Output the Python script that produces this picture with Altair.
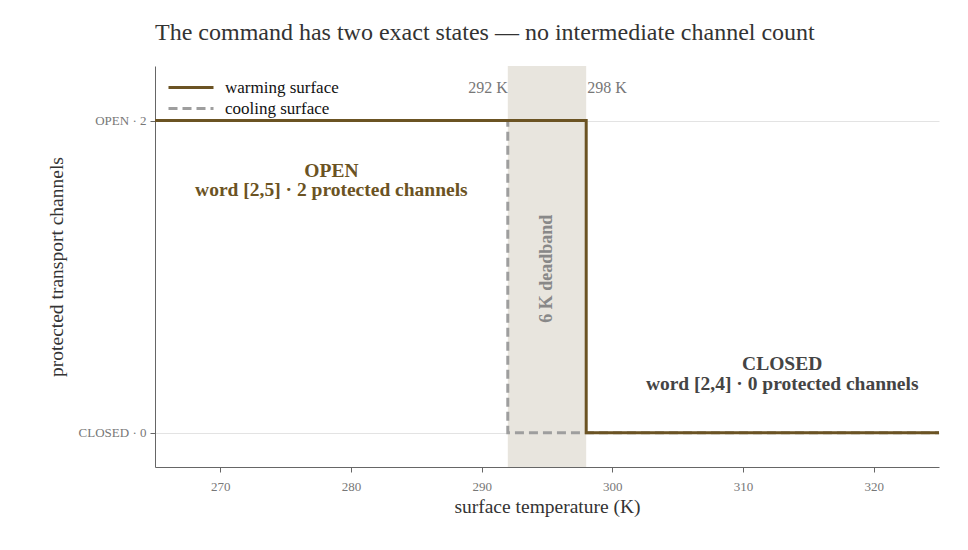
import altair as alt
import pandas as pd

# ---- data ----
warm_temp = [265, 298, 298, 325]
warm_chan = [2, 2, 0, 0]
cool_temp = [265, 292, 292, 325]
cool_chan = [2, 2, 0, 0]
band_lo, band_hi = 292, 298
x_domain = [265, 325]
y_domain = [-0.22, 2.35]
x_ticks = [270, 280, 290, 300, 310, 320]
y_ticks = [0, 2]

FONT = "Liberation Serif"
BROWN = "#6b5323"
GRAY = "#9e9e9e"

rows = []
for i, (t, c) in enumerate(zip(cool_temp, cool_chan)):
    rows.append({"temp": t, "chan": c, "series": "cooling surface", "ord": i})
for i, (t, c) in enumerate(zip(warm_temp, warm_chan)):
    rows.append({"temp": t, "chan": c, "series": "warming surface", "ord": i})
lines_df = pd.DataFrame(rows)

band_df = pd.DataFrame({"lo": [band_lo], "hi": [band_hi]})
edge_df = pd.DataFrame({
    "temp": [band_lo, band_hi],
    "chan": [2.21, 2.21],
    "label": [f"{band_lo} K", f"{band_hi} K"],
})
open_df = pd.DataFrame({"temp": [278.5], "chan": [1.68],
                        "label": [["OPEN", "word [2,5] · 2 protected channels"]]})
closed_df = pd.DataFrame({"temp": [313], "chan": [0.44],
                          "label": [["CLOSED", "word [2,4] · 0 protected channels"]]})
dead_df = pd.DataFrame({"temp": [(band_lo + band_hi) / 2], "chan": [1.05],
                        "label": [f"{band_hi - band_lo} K deadband"]})

xs = alt.Scale(domain=x_domain, nice=False, zero=False)
ys = alt.Scale(domain=y_domain, nice=False, zero=False)

band = alt.Chart(band_df).mark_rect(color="#e8e5de").encode(
    x=alt.X("lo:Q", scale=xs), x2="hi:Q"
)

lines = alt.Chart(lines_df).mark_line(strokeWidth=3).encode(
    x=alt.X("temp:Q", scale=xs,
            axis=alt.Axis(values=x_ticks, title="surface temperature (K)", grid=False)),
    y=alt.Y("chan:Q", scale=ys,
            axis=alt.Axis(values=y_ticks, title="protected transport channels",
                          labelExpr="datum.value == 2 ? 'OPEN · 2' : 'CLOSED · 0'")),
    color=alt.Color("series:N",
                    scale=alt.Scale(domain=["warming surface", "cooling surface"],
                                    range=[BROWN, GRAY]),
                    legend=alt.Legend(title=None, orient="none", legendX=25.5, legendY=11,
                                      symbolType="M-2.5,0H2.5", symbolSize=324,
                                      symbolStrokeWidth=3, labelFontSize=17,
                                      labelFont=FONT, labelColor="#111",
                                      rowPadding=2, symbolOffset=0, labelOffset=23.5)),
    strokeDash=alt.StrokeDash("series:N",
                              scale=alt.Scale(domain=["warming surface", "cooling surface"],
                                              range=[[1, 0], [9, 5]]),
                              legend=None),
    order=alt.Order("ord:Q"),
)

edges_l = alt.Chart(edge_df.iloc[[0]]).mark_text(font=FONT, fontSize=16, color="#777",
                                                  align="right", dx=0).encode(
    x=alt.X("temp:Q", scale=xs), y=alt.Y("chan:Q", scale=ys), text="label:N")
edges_r = alt.Chart(edge_df.iloc[[1]]).mark_text(font=FONT, fontSize=16, color="#777",
                                                  align="left", dx=1).encode(
    x=alt.X("temp:Q", scale=xs), y=alt.Y("chan:Q", scale=ys), text="label:N")

open_txt = alt.Chart(open_df).mark_text(font=FONT, fontSize=19.5, fontWeight="bold",
                                        color=BROWN, lineHeight=19.5).encode(
    x=alt.X("temp:Q", scale=xs), y=alt.Y("chan:Q", scale=ys), text="label")
closed_txt = alt.Chart(closed_df).mark_text(font=FONT, fontSize=19.5, fontWeight="bold",
                                            color="#444", lineHeight=19.5).encode(
    x=alt.X("temp:Q", scale=xs), y=alt.Y("chan:Q", scale=ys), text="label")
dead_txt = alt.Chart(dead_df).mark_text(font=FONT, fontSize=18, fontWeight="bold",
                                        color="#888", angle=270).encode(
    x=alt.X("temp:Q", scale=xs), y=alt.Y("chan:Q", scale=ys), text="label:N")

chart = alt.layer(band, lines, edges_l, edges_r, open_txt, closed_txt, dead_txt).properties(
    width=784, height=401,
    padding={"left": 155, "top": 66, "right": 29, "bottom": 83},
    autosize=alt.AutoSizeParams(type="none"),
    title=alt.Title("The command has two exact states — no intermediate channel count",
                    anchor="start", frame="group", font=FONT, fontSize=24,
                    fontWeight="normal", color="#333", offset=21),
).configure_view(stroke=None).configure_axis(
    labelFont=FONT, titleFont=FONT, labelFontSize=13, titleFontSize=19.5,
    labelColor="#777", titleColor="#333", titleFontWeight="normal",
    domainColor="#666", tickColor="#666", gridColor="#e3e3e3",
).configure_axisX(titlePadding=4, labelPadding=8).configure_axisY(titlePadding=12, labelPadding=4)

chart.save("out.html", embed_options={"renderer": "svg", "actions": False})
